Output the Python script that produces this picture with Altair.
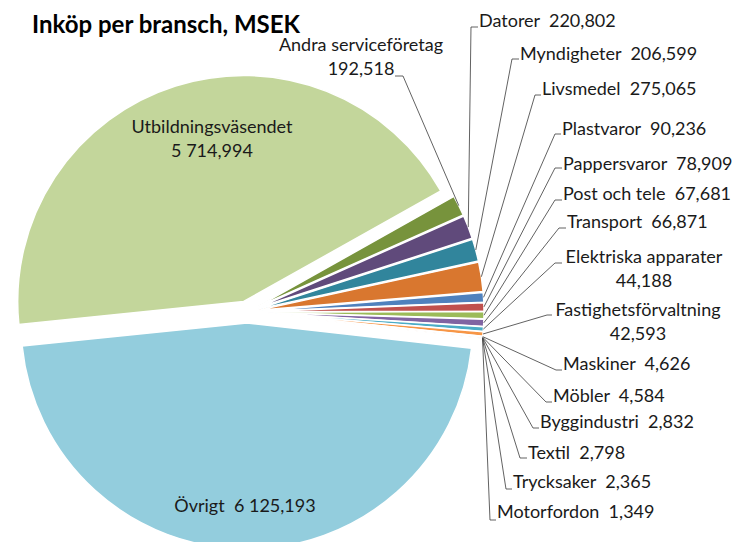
import math
import altair as alt
import pandas as pd

# ---------------- data (MSEK) ----------------
names = ["Andra serviceföretag", "Datorer", "Myndigheter", "Livsmedel", "Plastvaror",
         "Pappersvaror", "Post och tele", "Transport", "Elektriska apparater",
         "Fastighetsförvaltning", "Maskiner", "Möbler", "Byggindustri", "Textil",
         "Trycksaker", "Motorfordon", "Övrigt", "Utbildningsväsendet"]
values = [192.518, 220.802, 206.599, 275.065, 90.236,
          78.909, 67.681, 66.871, 44.188,
          42.593, 4.626, 4.584, 2.832, 2.798,
          2.365, 1.349, 6125.193, 5714.994]
two_line = ["Andra serviceföretag", "Elektriska apparater", "Fastighetsförvaltning",
            "Utbildningsväsendet"]
title_text = "Inköp per bransch, MSEK"

# ---------------- style ----------------
colors = ["#77933C", "#604A7B", "#31859C", "#D9772F", "#4F81BD",
          "#C0504D", "#9BBB59", "#8064A2", "#4BACC6",
          "#F79646", "#2C4D75", "#772C2A", "#5F7530", "#4D3B62",
          "#276A7C", "#B65708", "#93CDDD", "#C3D69B"]
FONT = "Lato"
FS = 18
OFF = 8                     # page margin
W, H = 746 - 2 * OFF, 550 - 2 * OFF
CX, CY = 247 - OFF, 312 - OFF
R = 226
EXP = 11
A0 = math.radians(60.7)

# label layout (screenshot pixels): text x, first-line y, align, tick y, elbow x, tick end x
layout = {
    "Andra serviceföretag": (361, 46, "center", 76, 403, 395),
    "Datorer": (479, 22, "left", 27, 471, 478),
    "Myndigheter": (520, 55, "left", 59, 512, 519),
    "Livsmedel": (542, 90, "left", 95, 535, 541),
    "Plastvaror": (562, 130, "left", 134, 555, 561),
    "Pappersvaror": (563, 165, "left", 168, 555, 562),
    "Post och tele": (563, 195, "left", 200, 555, 562),
    "Transport": (567, 223, "left", 228, 559, 566),
    "Elektriska apparater": (644, 258, "center", 263, 555, 562),
    "Fastighetsförvaltning": (638, 311, "center", 315, 547, 552),
    "Maskiner": (563, 365, "left", 370, 556, 562),
    "Möbler": (553, 397, "left", 402, 546, 552),
    "Byggindustri": (540, 423, "left", 428, 533, 539),
    "Textil": (528, 454, "left", 458, 520, 527),
    "Trycksaker": (513, 483, "left", 489, 506, 512),
    "Motorfordon": (497, 513, "left", 520, 490, 496),
    "Övrigt": (245, 507, "center", None, None, None),
    "Utbildningsväsendet": (212, 128, "center", None, None, None),
}
LINE_H = 24


def fmt(v):
    s = f"{v:,.3f}"
    return s.replace(",", " ").replace(".", ",")


rows = []
for i, (n, v) in enumerate(zip(names, values)):
    lx, ly, al, ty, ex, tx = layout[n]
    rows.append(dict(name=n, value=v, idx=i,
                     lead=ty is not None,
                     ty=(ty - OFF) if ty is not None else None,
                     ex=(ex - OFF) if ex is not None else None,
                     tx=(tx - OFF) if tx is not None else None))
df = pd.DataFrame(rows)

text_rows = []
for n, v in zip(names, values):
    lx, ly, al, *_ = layout[n]
    lines = [n, fmt(v)] if n in two_line else [n + "\u00a0 " + fmt(v)]
    for k, t in enumerate(lines):
        text_rows.append(dict(t=t, x=lx - OFF, y=ly - OFF + k * LINE_H, al=al))
tdf = pd.DataFrame(text_rows)

base = (
    alt.Chart(df)
    .transform_joinaggregate(total="sum(value)")
    .transform_window(cum="sum(value)", sort=[alt.SortField("idx", order="ascending")],
                      frame=[None, 0])
    .transform_calculate(
        t0="(datum.cum - datum.value) / datum.total",
        t1="datum.cum / datum.total",
    )
    .transform_calculate(mid=f"{A0} + 2 * PI * (datum.t0 + datum.t1) / 2")
    .transform_calculate(
        cx=f"{CX} + {EXP} * sin(datum.mid)",
        cy=f"{CY} - {EXP} * cos(datum.mid)",
        sx=f"{CX} + {R + EXP} * sin(datum.mid)",
        sy=f"{CY} - {R + EXP} * cos(datum.mid)",
    )
)

arcs = base.mark_arc(outerRadius=R, stroke="white", strokeWidth=1.5).encode(
    theta=alt.Theta("t0:Q", scale=alt.Scale(domain=[0, 1], range=[A0, A0 + 2 * math.pi])),
    theta2=alt.Theta2("t1:Q"),
    color=alt.Color("name:N", scale=alt.Scale(domain=names, range=colors), legend=None),
    x=alt.X("cx:Q", scale=None, stack=None),
    y=alt.Y("cy:Q", scale=None, stack=None),
)

leads = base.transform_filter("datum.lead")
diag = leads.mark_rule(color="#3a3a3a", strokeWidth=0.8).encode(
    x=alt.X("sx:Q", scale=None, stack=None),
    y=alt.Y("sy:Q", scale=None, stack=None),
    x2="ex:Q",
    y2="ty:Q",
)
tick = leads.mark_rule(color="#3a3a3a", strokeWidth=0.8).encode(
    x=alt.X("ex:Q", scale=None, stack=None),
    y=alt.Y("ty:Q", scale=None, stack=None),
    x2="tx:Q",
)


def text_layer(al):
    return alt.Chart(tdf).transform_filter(f"datum.al == '{al}'").mark_text(
        font=FONT, fontSize=FS, color="#1a1a1a", align=al, baseline="middle"
    ).encode(
        x=alt.X("x:Q", scale=None, stack=None),
        y=alt.Y("y:Q", scale=None, stack=None),
        text="t:N",
    )


title_df = pd.DataFrame({"t": [title_text]})
title = alt.Chart(title_df).mark_text(
    font=FONT, fontSize=24, fontWeight="bold", color="#000000", align="right",
    baseline="alphabetic"
).encode(
    x=alt.value(300 - OFF), y=alt.value(33 - OFF), text="t:N"
)

chart = (
    alt.layer(arcs, diag, tick, text_layer("left"), text_layer("center"), title)
    .properties(width=W, height=H, padding=0, autosize=alt.AutoSizeParams(type="none"))
    .configure_view(stroke=None)
)

chart.save("out.html", embed_options={"renderer": "svg", "actions": False})
